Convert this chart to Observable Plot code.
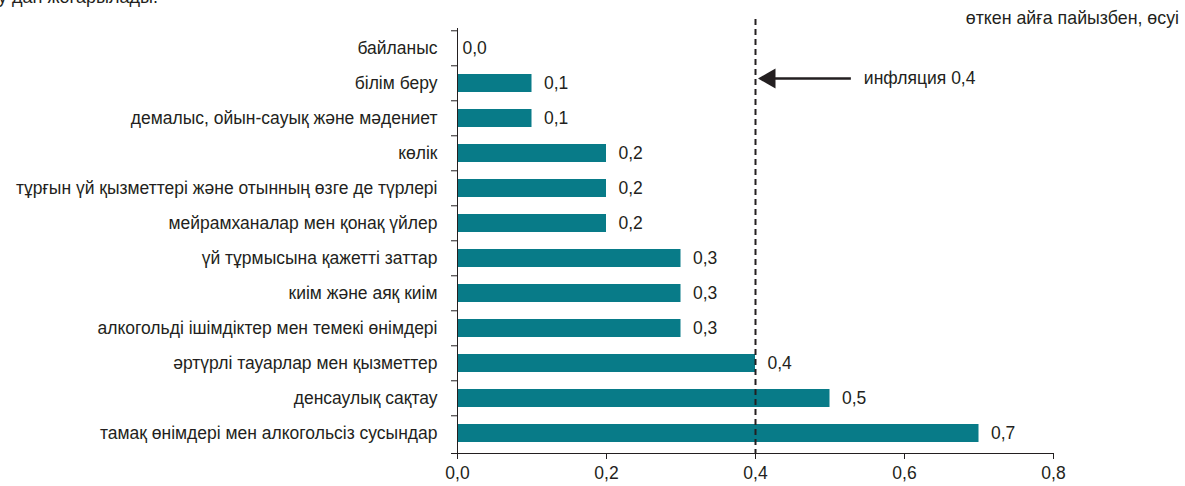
<!DOCTYPE html>
<html>
<head>
<meta charset="utf-8">
<script src="https://cdn.jsdelivr.net/npm/d3@7"></script>
<script src="https://cdn.jsdelivr.net/npm/@observablehq/plot@0.6"></script>
<style>
  html, body { margin: 0; padding: 0; background: #fff; overflow: hidden; }
  #wrap { position: relative; width: 1185px; height: 486px; font-family: "Liberation Sans", Arial, sans-serif; color: #231f20; }
  #topnote { position: absolute; left: -2px; top: -13px; font-size: 18px; white-space: nowrap; }
  #unit { position: absolute; right: 6px; top: 8px; font-size: 17.8px; white-space: nowrap; }
  #chart { position: absolute; left: 0; top: 0; }
</style>
</head>
<body>
<div id="wrap">
  <div id="chart"></div>
  <div id="topnote">у дан жоғарылады.</div>
  <div id="unit">өткен айға пайызбен, өсуі</div>
</div>
<script>
const categories = [
  "байланыс",
  "білім беру",
  "демалыс, ойын-сауық және мәдениет",
  "көлік",
  "тұрғын үй қызметтері және отынның өзге де түрлері",
  "мейрамханалар мен қонақ үйлер",
  "үй тұрмысына қажетті заттар",
  "киім және аяқ киім",
  "алкогольді ішімдіктер мен темекі өнімдері",
  "әртүрлі тауарлар мен қызметтер",
  "денсаулық сақтау",
  "тамақ өнімдері мен алкогольсіз сусындар"
];
const values = [0.0, 0.1, 0.1, 0.2, 0.2, 0.2, 0.3, 0.3, 0.3, 0.4, 0.5, 0.7];
const xTicks = [0, 0.2, 0.4, 0.6, 0.8];
const inflation = 0.4;
const inflationLabel = "инфляция 0,4";
const arrowFrom = 0.528;
const arrowRow = "білім беру";

const data = categories.map((c, i) => ({category: c, value: values[i]}));
const fmt = v => v.toFixed(1).replace(".", ",");

const W = 1185, H = 486;
const mL = 457, mR = 132, mT = 15, mB = 33, insetT = 13;
const pad = 0.49;
const step = (H - mT - mB - insetT) / categories.length;
const ink = "#231f20";
const teal = "#087b88";
const fs = 17.5;

const chart = Plot.plot({
  width: W,
  height: H,
  marginLeft: mL,
  marginRight: mR,
  marginTop: mT,
  marginBottom: mB,
  style: {fontFamily: "'Liberation Sans', Arial, sans-serif", fontSize: fs + "px", color: ink, background: "transparent"},
  x: {domain: [0, 0.8]},
  y: {domain: categories, paddingInner: pad, paddingOuter: pad / 2, insetTop: insetT, label: null},
  marks: [
    Plot.barX(data, {x: "value", y: "category", fill: teal}),
    Plot.text(data.filter(d => d.value > 0), {x: "value", y: "category", text: d => fmt(d.value), dx: 12, textAnchor: "start", fill: ink, fontSize: fs}),
    Plot.text(data.filter(d => d.value === 0), {x: "value", y: "category", text: d => fmt(d.value), dx: 5, textAnchor: "start", fill: ink, fontSize: fs}),
    Plot.axisY({tickSize: 0, tickPadding: 20, fontSize: fs, fill: ink, label: null}),
    Plot.axisY({tickSize: 6, tickFormat: () => "", dy: -step / 2, stroke: ink, label: null}),
    Plot.frame({anchor: "left", insetTop: insetT, stroke: ink}),
    Plot.frame({anchor: "bottom", insetLeft: -6, stroke: ink}),
    Plot.axisX({ticks: xTicks, tickFormat: fmt, tickSize: 6, tickPadding: 7, fontSize: fs, fill: ink, stroke: ink, label: null}),
    Plot.ruleX([inflation], {stroke: ink, strokeWidth: 2, strokeDasharray: "6,4", insetTop: 4}),
    Plot.link([{x1: arrowFrom, x2: inflation + 0.025, y: arrowRow}], {x1: "x1", x2: "x2", y1: "y", y2: "y", dy: -5, stroke: ink, strokeWidth: 2.5}),
    Plot.dot([{x: inflation + 0.019, y: arrowRow}], {x: "x", y: "y", dy: -5, symbol: "triangle", r: 7.5, fill: ink, stroke: null, rotate: -90}),
    Plot.text([{x: arrowFrom, y: arrowRow}], {x: "x", y: "y", dy: -5, text: () => inflationLabel, dx: 13, textAnchor: "start", fill: ink, fontSize: fs})
  ]
});
document.getElementById("chart").appendChild(chart);
</script>
</body>
</html>
